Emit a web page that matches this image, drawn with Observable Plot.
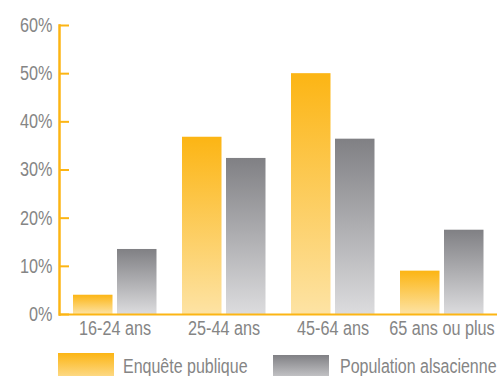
<!DOCTYPE html>
<html>
<head>
<meta charset="utf-8">
<script src="https://cdn.jsdelivr.net/npm/d3@7"></script>
<script src="https://cdn.jsdelivr.net/npm/@observablehq/plot@0.6"></script>
<style>
  body { margin: 0; background: #fff; font-family: "Liberation Sans", Arial, sans-serif; overflow: hidden; }
  #wrap { position: relative; width: 497px; height: 376px; overflow: hidden; }
  .sw { position: absolute; width: 56px; height: 30px; }
  .lt { position: absolute; font-size: 20px; line-height: 20px; color: #858585; white-space: nowrap;
        transform: scaleX(0.8); transform-origin: 0 0; }
</style>
</head>
<body>
<div id="wrap">
  <div id="chart"></div>
  <div class="sw" style="left:58px; top:353px; background: linear-gradient(#fcb514, #fde3a4);"></div>
  <div class="lt" style="left:123px; top:355.7px;">Enquête publique</div>
  <div class="sw" style="left:273px; top:355px; background: linear-gradient(#808084, #dcdcde);"></div>
  <div class="lt" style="left:340px; top:355.7px;">Population alsacienne</div>
</div>
<script>
const groups = ["16-24 ans", "25-44 ans", "45-64 ans", "65 ans ou plus"];
const enquete = [0.040, 0.368, 0.500, 0.090];
const population = [0.135, 0.324, 0.364, 0.175];
const yTicks = [0, 0.1, 0.2, 0.3, 0.4, 0.5, 0.6];

const orange = "#fcb514";
const textGray = "#858585";

const dataE = groups.map((g, i) => ({group: g, value: enquete[i]}));
const dataP = groups.map((g, i) => ({group: g, value: population[i]}));

const chart = Plot.plot({
  width: 497,
  height: 348,
  marginLeft: 59,
  marginRight: 0,
  marginTop: 25,
  marginBottom: 34,
  style: {fontFamily: "'Liberation Sans', Arial, sans-serif", background: "transparent"},
  x: {domain: groups, padding: 0},
  y: {domain: [0, 0.6]},
  marks: [
    Plot.barY(dataE, {x: "group", y: "value", fill: "url(#gradOrange)", insetLeft: 13, insetRight: 56.5}),
    Plot.barY(dataP, {x: "group", y: "value", fill: "url(#gradGray)", insetLeft: 57, insetRight: 12.5}),
    Plot.axisY({ticks: yTicks, tickFormat: d => Math.round(d * 100) + "%", tickSize: -10, tickPadding: 17,
      stroke: orange, strokeWidth: 2, fill: textGray, fontSize: 20, label: null}),
    Plot.axisX({tickSize: 0, tickPadding: 6.5, fill: textGray, fontSize: 20, label: null}),
    Plot.frame({anchor: "left", stroke: orange, strokeWidth: 2.5}),
    Plot.ruleY([0], {stroke: orange, strokeWidth: 2})
  ]
});

const ns = "http://www.w3.org/2000/svg";
const defs = document.createElementNS(ns, "defs");
function grad(id, top, bottom) {
  const g = document.createElementNS(ns, "linearGradient");
  g.setAttribute("id", id);
  g.setAttribute("x1", "0"); g.setAttribute("y1", "0");
  g.setAttribute("x2", "0"); g.setAttribute("y2", "1");
  [[0, top], [1, bottom]].forEach(([o, c]) => {
    const s = document.createElementNS(ns, "stop");
    s.setAttribute("offset", o);
    s.setAttribute("stop-color", c);
    g.appendChild(s);
  });
  defs.appendChild(g);
}
grad("gradOrange", "#fcb514", "#fde3a4");
grad("gradGray", "#808084", "#dcdcde");
chart.insertBefore(defs, chart.firstChild);
document.getElementById("chart").appendChild(chart);

// condensed look: squeeze axis labels horizontally (glyphs kept as real text)
chart.querySelectorAll("text").forEach(t => {
  const L = t.getComputedTextLength();
  if (L > 0) {
    t.setAttribute("textLength", (L * 0.81).toFixed(2));
    t.setAttribute("lengthAdjust", "spacingAndGlyphs");
  }
});
</script>
</body>
</html>
